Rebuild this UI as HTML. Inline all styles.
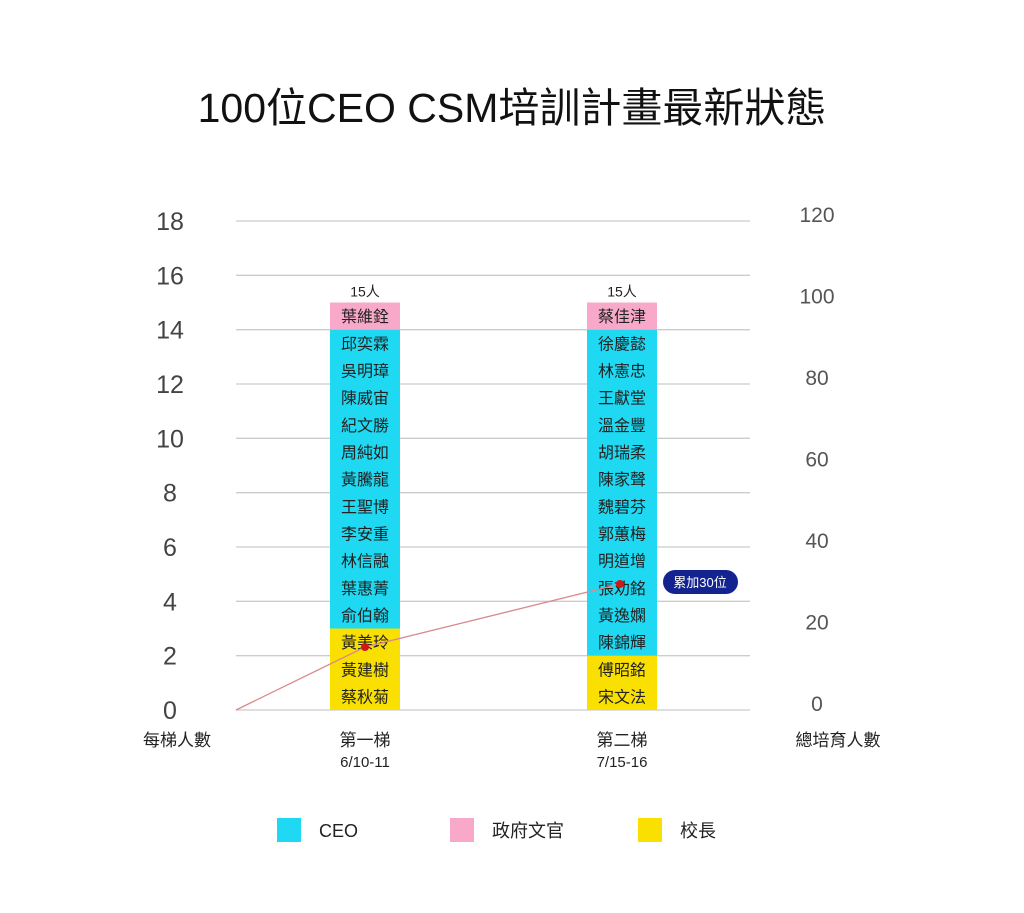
<!DOCTYPE html>
<html><head><meta charset="utf-8"><style>
body{margin:0;background:#fff;}
svg text{font-family:"Liberation Sans","Noto Sans CJK TC",sans-serif;}
</style></head><body>
<svg width="1024" height="908" viewBox="0 0 1024 908" id="chart">
<text x="512" y="122" text-anchor="middle" font-size="41" fill="#111">100位CEO CSM培訓計畫最新狀態</text>
<g id="grid"></g><g id="bars"></g><g id="line"></g><g id="axes"></g>
<g>
<rect x="277" y="818" width="24" height="24" fill="#1fd9f2"/>
<text x="319" y="837" font-size="18" fill="#222">CEO</text>
<rect x="450" y="818" width="24" height="24" fill="#f8a9c9"/>
<text x="492" y="837" font-size="18" fill="#222">政府文官</text>
<rect x="638" y="818" width="24" height="24" fill="#f9e000"/>
<text x="680" y="837" font-size="18" fill="#222">校長</text>
</g>
</svg>
<script>
const categories=["第一梯","第二梯"];
const dates=["6/10-11","7/15-16"];
const principals=[["蔡秋菊","黃建樹","黃美玲"],["宋文法","傅昭銘"]];
const ceos=[["俞伯翰","葉惠菁","林信融","李安重","王聖博","黃騰龍","周純如","紀文勝","陳威宙","吳明璋","邱奕霖"],["陳錦輝","黃逸嫻","張劝銘","明道增","郭蕙梅","魏碧芬","陳家聲","胡瑞柔","溫金豐","王獻堂","林憲忠","徐慶懿"]];
const govs=[["葉維銓"],["蔡佳津"]];
const cumulative=[0,15,30];
const leftTicks=[0,2,4,6,8,10,12,14,16,18];
const rightTicks=[0,20,40,60,80,100,120];
const NS="http://www.w3.org/2000/svg";
function mk(p,t,a,txt){const e=document.createElementNS(NS,t);for(const k in a)e.setAttribute(k,a[k]);if(txt!==undefined)e.textContent=txt;p.appendChild(e);return e;}
const y=v=>710-v*(489/18);
const yR=v=>710-v*4.2;
const xC=[365,622];
const grid=document.getElementById('grid'),bars=document.getElementById('bars'),line=document.getElementById('line'),axes=document.getElementById('axes');
leftTicks.forEach(t=>{const l=mk(grid,'line',{x1:236,x2:750,y1:y(t),y2:y(t),stroke:'#ccc','stroke-width':1.3});


const tx=mk(axes,'text',{x:170,y:y(t)+9,'text-anchor':'middle','font-size':25,fill:'#444'},t);

});
rightTicks.forEach((t,i)=>{const tx=mk(axes,'text',{x:817,y:y(i*3)+1,'text-anchor':'middle','font-size':21,fill:'#555'},t);

});
let lt=mk(axes,'text',{x:177,y:746,'text-anchor':'middle','font-size':17,fill:'#222'},'每梯人數');


let rt=mk(axes,'text',{x:838,y:746,'text-anchor':'middle','font-size':17,fill:'#222'},'總培育人數');


categories.forEach((c,i)=>{
 let v=0;const x=xC[i]-35;
 const groups=[[principals[i],'#f9e000','principal'],[ceos[i],'#1fd9f2','ceo'],[govs[i],'#f8a9c9','gov']];
 groups.forEach(([names,col,nm])=>{
  const r=mk(bars,'rect',{x:x,y:y(v+names.length),width:70,height:y(v)-y(v+names.length),fill:col});
  
  
  names.forEach((n,k)=>{const t=mk(bars,'text',{x:xC[i],y:y(v+k+0.5)+6,'text-anchor':'middle','font-size':16,fill:'#222'},n);
   
   });
  v+=names.length;
 });
 const tot=mk(bars,'text',{x:xC[i],y:y(v)-6,'text-anchor':'middle','font-size':14,fill:'#222'},v+'人');
 
 
 const cl=mk(axes,'text',{x:xC[i],y:746,'text-anchor':'middle','font-size':17,fill:'#222'},c);
 
 
 const dl=mk(axes,'text',{x:xC[i],y:767,'text-anchor':'middle','font-size':15,fill:'#222'},dates[i]);
 
 
});
const lx=[236,xC[0],xC[1]-2];
const pl=mk(line,'polyline',{points:cumulative.map((c,i)=>lx[i]+','+yR(c)).join(' '),fill:'none',stroke:'#d98a8a','stroke-width':1.3});


cumulative.slice(1).forEach((c,i)=>{const d=mk(line,'circle',{cx:lx[i+1],cy:yR(c),r:4,fill:'#d01818'});
 
 });
const last=cumulative[cumulative.length-1];
const bg=mk(line,'rect',{x:663,y:yR(last)-14,width:75,height:24,rx:12,fill:'#13238f'});


const bt=mk(line,'text',{x:700,y:yR(last)+3,'text-anchor':'middle','font-size':13,fill:'#fff'},'累加'+last+'位');


</script>
</body></html>
